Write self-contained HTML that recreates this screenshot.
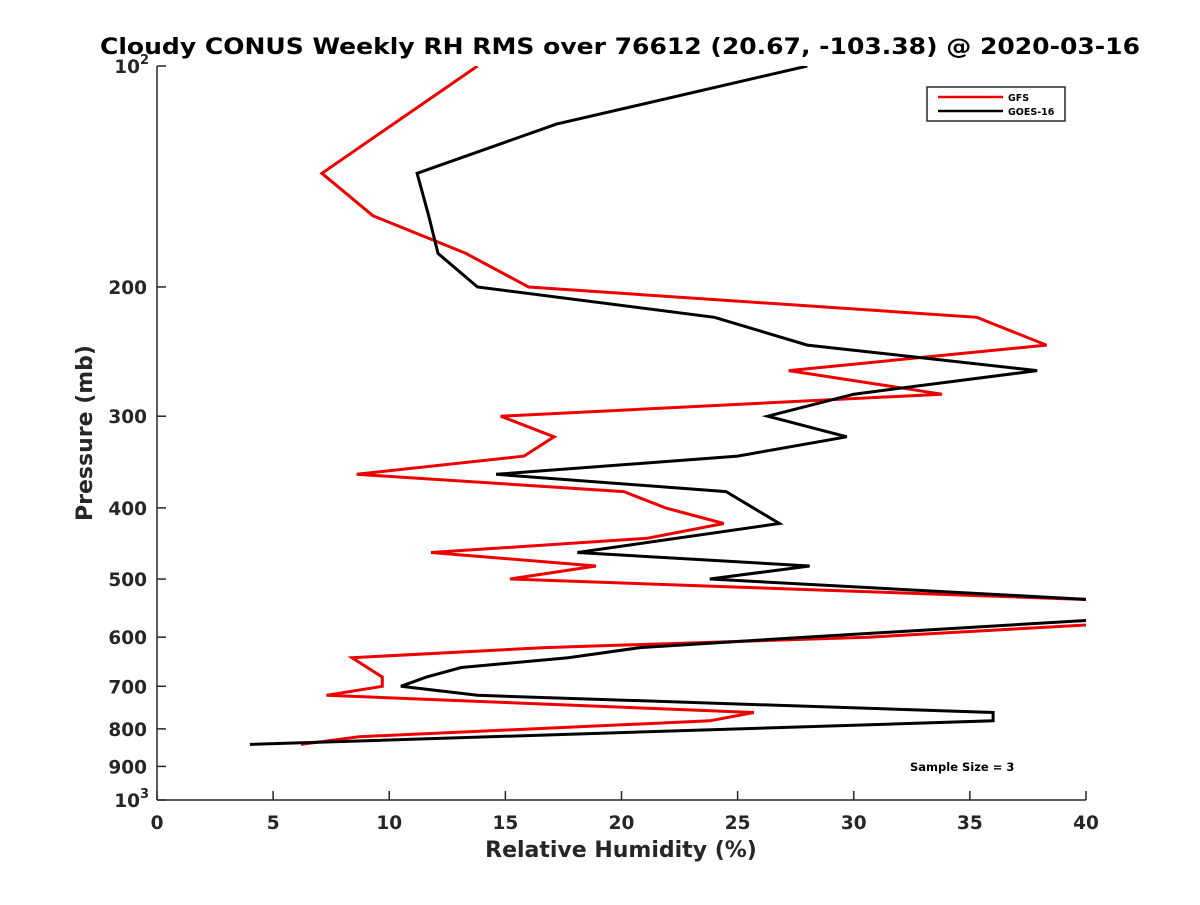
<!DOCTYPE html>
<html><head><meta charset="utf-8"><style>
body{margin:0;background:#fff;}
svg text{font-family:"DejaVu Sans","Liberation Sans",sans-serif;font-weight:bold;fill:#262626;}
</style></head><body>
<svg width="1200" height="900" xmlns="http://www.w3.org/2000/svg">
<defs><clipPath id="plotclip"><rect x="157" y="66" width="929" height="734"/></clipPath></defs>
<rect width="1200" height="900" fill="#fff"/>
<text x="620" y="54" font-size="22.5" text-anchor="middle" textLength="1040" lengthAdjust="spacingAndGlyphs" style="fill:#000">Cloudy CONUS Weekly RH RMS over 76612 (20.67, -103.38) @ 2020-03-16</text>
<g id="axes"></g>
<g id="series" clip-path="url(#plotclip)"></g>
<g>
<rect x="927" y="87" width="138" height="34" fill="#fff" stroke="#262626" stroke-width="1.5"/>
<line x1="938" y1="97" x2="1003" y2="97" stroke="#e00" stroke-width="2.5"/>
<text x="1008" y="101" font-size="9.5" style="fill:#000">GFS</text>
<line x1="938" y1="111" x2="1003" y2="111" stroke="#000" stroke-width="2.5"/>
<text x="1008" y="115" font-size="9.5" style="fill:#000">GOES-16</text>
</g>
<text x="910" y="771" font-size="11.5" style="fill:#000">Sample Size = 3</text>
<text x="621" y="857" font-size="22" text-anchor="middle">Relative Humidity (%)</text>
<text transform="translate(92,433) rotate(-90)" font-size="22" text-anchor="middle">Pressure (mb)</text>
</svg>
<script>
const xTicks=[0,5,10,15,20,25,30,35,40];
const yTicks=[100,200,300,400,500,600,700,800,900,1000];
const gfsP=[100,140,160,180,200,220,240,260,280,300,320,340,360,380,400,420,440,460,480,500,550,600,620,640,680,700,720,760,780,820,840];
const gfsV=[13.8,7.1,9.3,13.3,16.0,35.3,38.3,27.2,33.8,14.8,17.1,15.8,8.6,20.1,21.9,24.4,21.1,11.8,18.9,15.2,52,30.6,16.7,8.4,9.7,9.7,7.3,25.7,23.8,8.7,6.2];
const goesP=[100,120,140,160,180,200,220,240,260,280,300,320,340,360,380,420,460,480,500,550,600,620,640,660,680,700,720,760,780,840];
const goesV=[28.0,17.2,11.2,11.7,12.1,13.8,24.0,28.0,37.9,30.0,26.3,29.7,25.0,14.6,24.5,26.8,18.1,28.1,23.8,48,27.9,20.8,17.7,13.1,11.6,10.5,13.8,36.0,36.0,4.0];
const NS='http://www.w3.org/2000/svg';
const X0=157,X1=1086,Y0=66,Y1=800;
const xs=v=>X0+(v-0)/(40-0)*(X1-X0);
const ys=p=>Y0+(Math.log10(p)-2)*(Y1-Y0);
function mk(t,a,parent){const e=document.createElementNS(NS,t);for(const k in a)e.setAttribute(k,a[k]);parent.appendChild(e);return e;}
const ax=document.getElementById('axes');
let l=mk('line',{x1:X0,y1:Y0,x2:X0,y2:Y1,stroke:'#262626','stroke-width':1.5},ax);


l=mk('line',{x1:X0,y1:Y1,x2:X1,y2:Y1,stroke:'#262626','stroke-width':1.5},ax);


xTicks.forEach(v=>{const x=xs(v);
 mk('line',{x1:x,y1:Y1,x2:x,y2:Y1-9,stroke:'#262626','stroke-width':1.5},ax);
 const t=mk('text',{x:x,y:Y1+29,'font-size':18.5,'text-anchor':'middle'},ax);
 
 
 t.textContent=v;});
yTicks.forEach(p=>{const y=ys(p);
 mk('line',{x1:X0,y1:y,x2:X0+9,y2:y,stroke:'#262626','stroke-width':1.5},ax);
 const t=mk('text',{x:X0-10,y:y+7,'font-size':18.5,'text-anchor':'end'},ax);
 
 
 if(p===100||p===1000){t.textContent='10';const s=mk('tspan',{dy:-9,'font-size':13},t);s.textContent=p===100?'2':'3';t.setAttribute('x',X0-8);}
 else t.textContent=p;});
const sg=document.getElementById('series');
function line(P,V,color,name){const pts=P.map((p,i)=>xs(V[i]).toFixed(1)+','+ys(p).toFixed(1)).join(' ');
 const e=mk('polyline',{points:pts,fill:'none',stroke:color,'stroke-width':3,'stroke-linejoin':'miter'},sg);
 
 }
line(gfsP,gfsV,'#e00','gfs-line');
line(goesP,goesV,'#000','goes16-line');
</script>
</body></html>
